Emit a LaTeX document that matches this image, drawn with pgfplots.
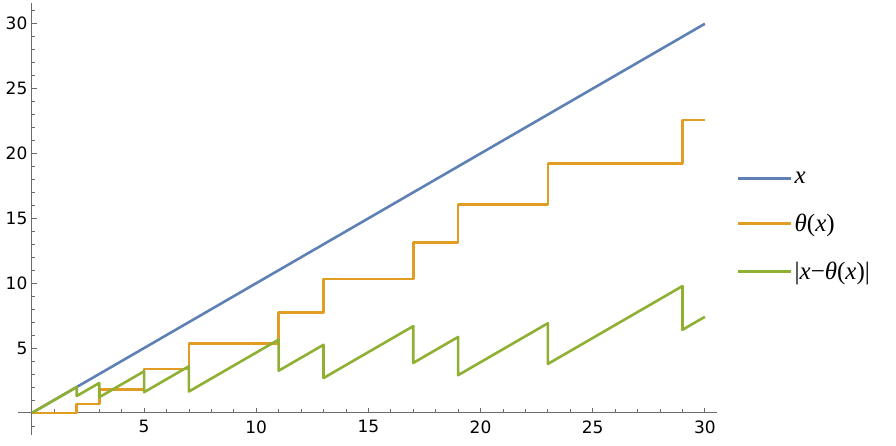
\documentclass[border=0pt]{standalone}
\usepackage{pgfplots}
\pgfplotsset{compat=1.18}
\usepackage{fontspec}
\setmainfont{DejaVu Sans}
\newfontfamily\legfont{Liberation Serif}
\definecolor{c1}{rgb}{0.368417,0.506779,0.709798}
\definecolor{c2}{rgb}{0.880722,0.611041,0.142051}
\definecolor{c3}{rgb}{0.560181,0.691569,0.194885}
\definecolor{axgray}{gray}{0.42}
\begin{document}
\begin{tikzpicture}
\path[use as bounding box] (0,0) rectangle (896pt,446pt);
\begin{axis}[
  at={(18pt,11pt)}, anchor=south west,
  scale only axis, width=699pt, height=432pt,
  xmin=-0.62, xmax=30.54, ymin=-1.7, ymax=31.6,
  axis lines=middle,
  axis line style={axgray, line width=0.9pt, -},
  xtick={5,10,...,30}, ytick={5,10,...,30},
  minor xtick={1,2,...,30}, minor ytick={-1,0,...,31},
  tick align=inside,
  major tick length=5pt, minor tick length=3.5pt,
  tick style={axgray, line width=0.8pt},
  ticklabel style={font=\fontsize{17}{20}\selectfont, text=black},
  /pgf/number format/assume math mode=true,
  xticklabel style={yshift=-4pt},
  yticklabel style={xshift=-1pt},
  clip=false,
  legend style={draw=none, fill=none, at={(1.024,0.482)}, anchor=west,
    font=\legfont\fontsize{25}{28}\selectfont, row sep=25pt,
    cells={anchor=west}},
  legend image code/.code={\draw[#1, line width=2.8pt] (0pt,0pt) -- (38pt,0pt); \path (0pt,0pt) -- (53pt,0pt);},
]
\addplot[c1, line width=2.6pt, line join=round] coordinates {(0,0) (30,30)};
\addlegendentry{\textit{x}}
\addplot[c2, line width=2.6pt, line join=round, const plot mark left] coordinates {
(0,0) (2,0.6931) (3,1.7918) (5,3.4012) (7,5.3471) (11,7.7450) (13,10.3100)
(17,13.1432) (19,16.0876) (23,19.2231) (29,22.5904) (30,22.5904)};
\addlegendentry{\textit{θ}(\textit{x})}
\addplot[c3, line width=2.6pt, line join=round] coordinates {
(0,0) (2,2) (2,1.307) (3,2.307) (3,1.208) (5,3.208) (5,1.599) (7,3.599)
(7,1.653) (11,5.653) (11,3.255) (13,5.255) (13,2.690) (17,6.690) (17,3.857)
(19,5.857) (19,2.912) (23,6.912) (23,3.777) (29,9.777) (29,6.410) (30,7.410)};
\addlegendentry{|\textit{x}−\textit{θ}(\textit{x})|}
\end{axis}
\end{tikzpicture}
\end{document}
